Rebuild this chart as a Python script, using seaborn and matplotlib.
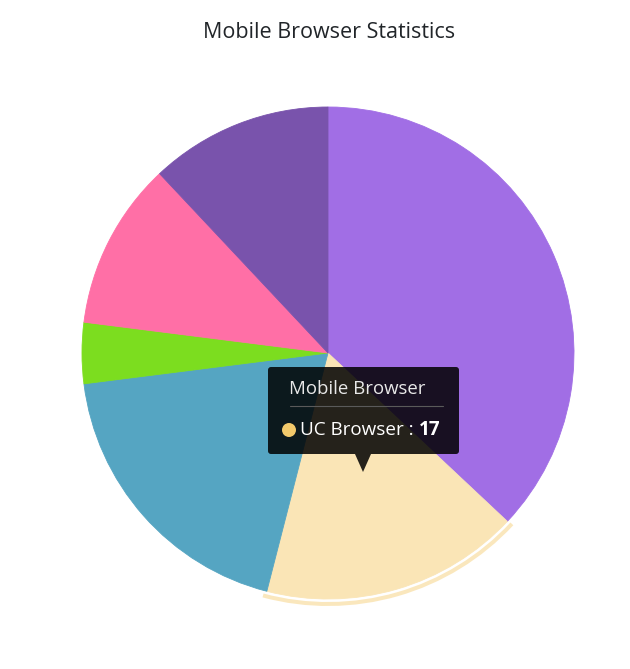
import numpy as np
import matplotlib
matplotlib.use("Agg")
import matplotlib.pyplot as plt
import seaborn as sns
from matplotlib.patches import Wedge, FancyBboxPatch, Polygon, Circle

# data
browsers = ["Chrome", "UC Browser", "iPhone", "Others", "Opera", "Android"]
shares = [37, 17, 19, 4, 11, 12]
slice_colors = ["#A16EE5", "#FAE5B6", "#55A5C2", "#7CDD1F", "#FF6FA6", "#7953AC"]
series_name = "Mobile Browser"
hovered = 1

sns.set_theme(style="white")
plt.rcParams['font.family'] = ['Open Sans', 'DejaVu Sans']

W, H = 630, 669
fig = plt.figure(figsize=(W / 100, H / 100), dpi=100)
ax = fig.add_axes([0, 0, 1, 1])

cx, cy, r = 328, H - 353, 246
palette = sns.color_palette(slice_colors)
wedges, _ = ax.pie(shares, colors=palette, startangle=90, counterclock=False,
                   center=(cx, cy), radius=r,
                   wedgeprops=dict(linewidth=0.6, edgecolor=None))
for w, c in zip(wedges, palette):
    w.set_edgecolor(c)

ax.set_xlim(0, W)
ax.set_ylim(0, H)
ax.set_aspect("equal")
ax.axis("off")

# hover highlight ring on the hovered slice
w = wedges[hovered]
ring = Wedge((cx, cy), r + 7, w.theta1 - 0.6, w.theta2 + 0.3, width=4,
             facecolor=slice_colors[hovered], edgecolor="none", alpha=0.9)
ax.add_patch(ring)

ax.text(329, H - 32, "Mobile Browser Statistics", ha="center", va="center",
        fontsize=15.5, fontweight="medium", color="#212529")

# tooltip
tx0, ty0, tx1, ty1 = 268, 367, 459, 454
box = FancyBboxPatch((tx0, H - ty1), tx1 - tx0, ty1 - ty0,
                     boxstyle="round,pad=0,rounding_size=3",
                     facecolor="#000000", edgecolor="none", alpha=0.85, zorder=5)
ax.add_patch(box)
arrow = Polygon([(355, H - ty1), (371, H - ty1), (363, H - 472)], closed=True,
                facecolor="#000000", edgecolor="none", alpha=0.85, zorder=5)
ax.add_patch(arrow)
ax.text(357, H - 389, series_name, ha="center", va="center", fontsize=13.4,
        color="#E8E8E8", zorder=6)
ax.plot([290, 443], [H - 406, H - 406], color="#5A5A5A", lw=0.8, zorder=6)
ax.add_patch(Circle((289, H - 430), 7, facecolor="#F2C96B",
                    edgecolor="none", zorder=6))
t = ax.text(300, H - 430, browsers[hovered] + " : ", ha="left", va="center",
            fontsize=13.6, color="#FFFFFF", zorder=6)
ax.annotate(str(shares[hovered]), xycoords=t, xy=(1, 0.5), va="center",
            ha="left", fontsize=13.6, fontweight="bold", color="#FFFFFF", zorder=6)

fig.savefig("out.png", dpi=100)
